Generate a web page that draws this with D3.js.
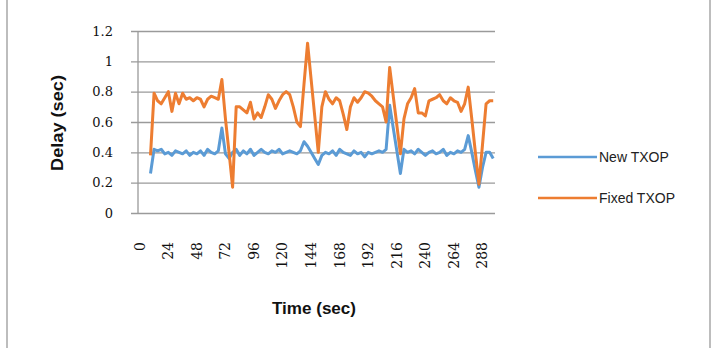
<!DOCTYPE html>
<html>
<head>
<meta charset="utf-8">
<script src="https://cdn.jsdelivr.net/npm/d3@7"></script>
<style>
  body { margin: 0; background: #fff; }
</style>
</head>
<body>
<div id="chart"></div>
<script>
// time categories, 0..297 sec in steps of 3
const times = d3.range(0, 300, 3);
const tickTimes = [0, 24, 48, 72, 96, 120, 144, 168, 192, 216, 240, 264, 288];
const yTicks = [0, 0.2, 0.4, 0.6, 0.8, 1, 1.2];
const seriesNames = ["New TXOP", "Fixed TXOP"];

const newTxop = [
  null, null, null, 0.26, 0.42, 0.41, 0.42, 0.39, 0.40, 0.38,
  0.41, 0.40, 0.39, 0.41, 0.38, 0.40, 0.39, 0.41, 0.38, 0.42,
  0.40, 0.39, 0.41, 0.56, 0.39, 0.36, 0.40, 0.42, 0.38, 0.41,
  0.39, 0.42, 0.38, 0.40, 0.42, 0.40, 0.39, 0.41, 0.40, 0.42,
  0.39, 0.40, 0.41, 0.40, 0.39, 0.41, 0.47, 0.44, 0.40, 0.36,
  0.32, 0.38, 0.40, 0.39, 0.41, 0.38, 0.42, 0.40, 0.39, 0.38,
  0.41, 0.39, 0.40, 0.37, 0.40, 0.39, 0.40, 0.41, 0.40, 0.42,
  0.71, 0.56, 0.41, 0.26, 0.42, 0.40, 0.41, 0.39, 0.42, 0.40,
  0.38, 0.40, 0.41, 0.39, 0.40, 0.42, 0.38, 0.40, 0.39, 0.41,
  0.40, 0.42, 0.51, 0.40, 0.28, 0.17, 0.30, 0.40, 0.40, 0.36
];

const fixedTxop = [
  null, null, null, 0.38, 0.79, 0.74, 0.72, 0.76, 0.80, 0.67,
  0.79, 0.72, 0.79, 0.75, 0.76, 0.74, 0.76, 0.75, 0.70, 0.75,
  0.77, 0.76, 0.75, 0.88, 0.62, 0.40, 0.17, 0.70, 0.70, 0.68,
  0.66, 0.73, 0.62, 0.66, 0.63, 0.70, 0.78, 0.75, 0.69, 0.74,
  0.78, 0.80, 0.78, 0.70, 0.60, 0.57, 0.85, 1.12, 0.88, 0.64,
  0.40, 0.70, 0.80, 0.75, 0.72, 0.76, 0.74, 0.65, 0.55, 0.70,
  0.76, 0.73, 0.76, 0.80, 0.79, 0.77, 0.74, 0.72, 0.70, 0.60,
  0.96, 0.77, 0.58, 0.39, 0.62, 0.72, 0.76, 0.82, 0.66, 0.66,
  0.64, 0.74, 0.75, 0.76, 0.78, 0.74, 0.72, 0.76, 0.74, 0.73,
  0.67, 0.72, 0.83, 0.62, 0.40, 0.19, 0.45, 0.72, 0.74, 0.74
];

const colors = ["#5B9BD5", "#ED7D31"];

const width = 716, height = 348;
const plot = { left: 138, right: 495, top: 31, bottom: 213 };

const svg = d3.select("#chart").append("svg")
  .attr("width", width)
  .attr("height", height);

// chart frame (top and bottom fall outside the picture)
svg.append("rect")
  .attr("x", 7).attr("y", -10)
  .attr("width", 703).attr("height", height + 20)
  .attr("fill", "#fff")
  .attr("stroke", "#bdbdbd")
  .attr("stroke-width", 2);

const xScale = d3.scaleBand()
  .domain(times)
  .range([plot.left, plot.right]);

const yScale = d3.scaleLinear()
  .domain([0, 1.2])
  .range([plot.bottom, plot.top]);

// gridlines + y labels
const yAxis = d3.axisLeft(yScale)
  .tickValues(yTicks)
  .tickSize(plot.right - plot.left + 7)
  .tickSizeOuter(0)
  .tickPadding(18)
  .tickFormat(d => d3.format("")(d));

svg.append("g")
  .attr("transform", `translate(${plot.right}, 0)`)
  .call(yAxis)
  .call(g => g.select(".domain").remove())
  .call(g => g.selectAll("line").attr("stroke", "#9a9a9a").attr("stroke-width", 1.3))
  .call(g => g.selectAll("text")
    .attr("font-family", "DejaVu Serif")
    .attr("font-size", 13)
    .attr("fill", "#111"));

// vertical axis line
svg.append("line")
  .attr("x1", plot.left).attr("x2", plot.left)
  .attr("y1", plot.top).attr("y2", plot.bottom)
  .attr("stroke", "#9a9a9a")
  .attr("stroke-width", 1.3);

// x axis labels
const xAxis = d3.axisBottom(xScale)
  .tickValues(tickTimes)
  .tickSize(0)
  .tickSizeOuter(0);

svg.append("g")
  .attr("transform", `translate(0, ${plot.bottom})`)
  .call(xAxis)
  .call(g => g.select(".domain").remove())
  .call(g => g.selectAll("text")
    .attr("font-family", "DejaVu Serif")
    .attr("font-size", 14)
    .attr("fill", "#111")
    .attr("text-anchor", "end")
    .attr("dy", "0.35em")
    .attr("transform", "translate(0, 29) rotate(-90)")
    .attr("x", 0).attr("y", 0));

// lines
const lineGen = values => d3.line()
  .defined((d, i) => values[i] != null)
  .x((d, i) => xScale(times[i]) + xScale.bandwidth() / 2)
  .y((d, i) => yScale(values[i]))(values);

[newTxop, fixedTxop].forEach((vals, k) => {
  svg.append("path")
    .attr("d", lineGen(vals))
    .attr("fill", "none")
    .attr("stroke", colors[k])
    .attr("stroke-width", 3)
    .attr("stroke-linejoin", "round");
});

// axis titles
svg.append("text")
  .text("Delay (sec)")
  .attr("transform", `translate(63, 123) rotate(-90)`)
  .attr("text-anchor", "middle")
  .attr("font-family", "Liberation Sans")
  .attr("font-weight", "bold")
  .attr("font-size", 16)
  .attr("textLength", 96)
  .attr("lengthAdjust", "spacingAndGlyphs")
  .attr("fill", "#111");

svg.append("text")
  .text("Time (sec)")
  .attr("x", 314).attr("y", 314)
  .attr("text-anchor", "middle")
  .attr("font-family", "Liberation Sans")
  .attr("font-weight", "bold")
  .attr("font-size", 16)
  .attr("textLength", 84)
  .attr("lengthAdjust", "spacingAndGlyphs")
  .attr("fill", "#111");

// legend
const legend = svg.append("g");
const legendY = [157, 198];
seriesNames.forEach((name, k) => {
  legend.append("line")
    .attr("x1", 538).attr("x2", 597)
    .attr("y1", legendY[k]).attr("y2", legendY[k])
    .attr("stroke", colors[k])
    .attr("stroke-width", 2.5);
  legend.append("text")
    .text(name)
    .attr("x", 599).attr("y", legendY[k])
    .attr("dy", "0.35em")
    .attr("font-family", "Liberation Sans")
    .attr("font-size", 14)
    .attr("fill", "#222");
});
</script>
</body>
</html>
